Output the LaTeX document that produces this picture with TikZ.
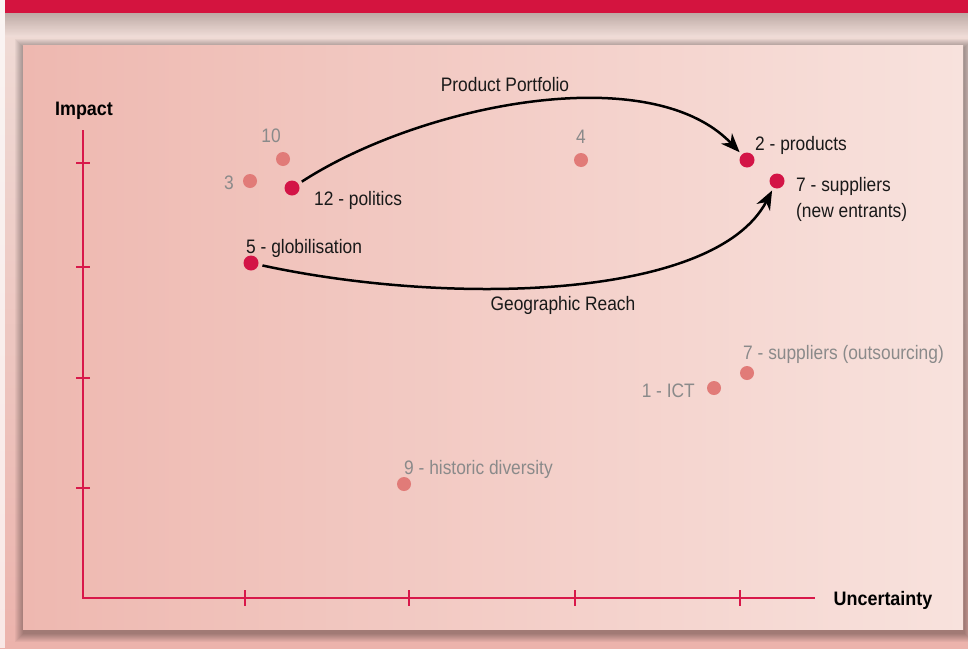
\documentclass[tikz,border=0pt]{standalone}
\usepackage{fontspec}
\setmainfont{Liberation Sans}[FakeStretch=0.89]
\newfontfamily\axisfont{Liberation Sans}[FakeStretch=0.92]
\usetikzlibrary{arrows.meta}
\definecolor{band}{HTML}{D4143F}
\definecolor{crim}{HTML}{D31446}
\definecolor{axisred}{HTML}{D8184A}
\definecolor{lightdot}{HTML}{E17B78}
\definecolor{graytext}{HTML}{8A8A8A}
\definecolor{panelL}{HTML}{EEB8B0}
\definecolor{panelR}{HTML}{F8E2DD}
\definecolor{bgtop}{HTML}{EFDCD7}
\definecolor{bgbot}{HTML}{ECB3AC}
\definecolor{bandshadow}{HTML}{B9A6A1}
\begin{document}
\begin{tikzpicture}[x=1pt,y=-1pt,
  lbl/.style={inner sep=0pt,font=\fontsize{19.5}{26}\selectfont,text=black!90},
  glbl/.style={lbl,text=graytext},
  axlbl/.style={inner sep=0pt,font=\axisfont\bfseries\fontsize{19.5}{22}\selectfont,text=black},
  cdot/.style={circle,fill=crim,minimum size=15pt,inner sep=0pt},
  ldot/.style={circle,fill=lightdot,minimum size=14pt,inner sep=0pt},
  axisline/.style={draw=axisred,line width=2pt},
  flow/.style={line width=2.5pt,-{Stealth[length=19pt,width=15pt,inset=6pt]},shorten >=3pt,shorten <=4pt}
]
\useasboundingbox (0,0) rectangle (968,648);
% outer background
\shade[top color=bgtop,bottom color=bgbot] (0,0) rectangle (968,648);
\fill[white,opacity=0.7] (0,0) rectangle (5,648);
% band shadow
\shade[top color=bandshadow,bottom color=bgtop,opacity=0.9] (5,13) rectangle (968,36);
% band
\fill[band] (5,0) rectangle (968,13);
% panel shadow
\foreach \i in {1,...,9}{
  \fill[black,opacity=0.04] (23-\i+1,45-\i+3) rectangle (963+\i+1,629+\i+4);
}
% panel
\shade[left color=panelL,right color=panelR] (23,45) rectangle (963,629);

% axes
\coordinate (origin) at (83,598);
\coordinate (ytop) at (83,130);
\coordinate (xend) at (815,598);
\draw[axisline] (ytop) -- (origin) -- (xend);
\foreach \y in {163,267,378,488}{
  \draw[axisline,line width=1.6pt] (76,\y) -- (90,\y);
}
\foreach \x in {245,409,575,740}{
  \draw[axisline,line width=1.6pt] (\x,590) -- (\x,606);
}
\node[axlbl,anchor=base] (impact) at (84,115) {Impact};
\node[axlbl,anchor=base] (uncert) at (883,605) {Uncertainty};

% light dots
\node[ldot] (d10) at (283,159) {};
\node[ldot] (d3) at (250,181) {};
\node[ldot] (d4) at (581,160) {};
\node[ldot] (d7o) at (747,373) {};
\node[ldot] (d1) at (714,388) {};
\node[ldot] (d9) at (404,484) {};
% crimson dots
\node[cdot] (d12) at (292,188) {};
\node[cdot] (d2) at (747,160) {};
\node[cdot] (d7) at (777,181) {};
\node[cdot] (d5) at (251,263) {};

% labels
\node[glbl,anchor=base] (l10) at (271,142) {10};
\node[glbl,anchor=base] (l3) at (229,189) {3};
\node[glbl,anchor=base] (l4) at (581,143) {4};
\node[lbl,anchor=base west] (l12) at (314,205) {12 - politics};
\node[lbl,anchor=base west] (l2) at (755,150) {2 - products};
\node[lbl,anchor=base west] (l7a) at (796,191) {7 - suppliers};
\node[lbl,anchor=base west] (l7b) at (796,217) {(new entrants)};
\node[lbl,anchor=base west] (l5) at (246,253) {5 - globilisation};
\node[glbl,anchor=base west] (l7o) at (743,359) {7 - suppliers (outsourcing)};
\node[glbl,anchor=base east] (l1) at (695,397) {1 - ICT};
\node[glbl,anchor=base west] (l9) at (404,474) {9 - historic diversity};
\node[lbl,anchor=base] (lpp) at (505,91) {Product Portfolio};
\node[lbl,anchor=base] (lgr) at (563,310) {Geographic Reach};

% connectors
\draw[flow] (d12) .. controls (420,105) and (650,58) .. (d2);
\draw[flow] (d5) .. controls (450,306) and (715,300) .. (d7);
\end{tikzpicture}
\end{document}
